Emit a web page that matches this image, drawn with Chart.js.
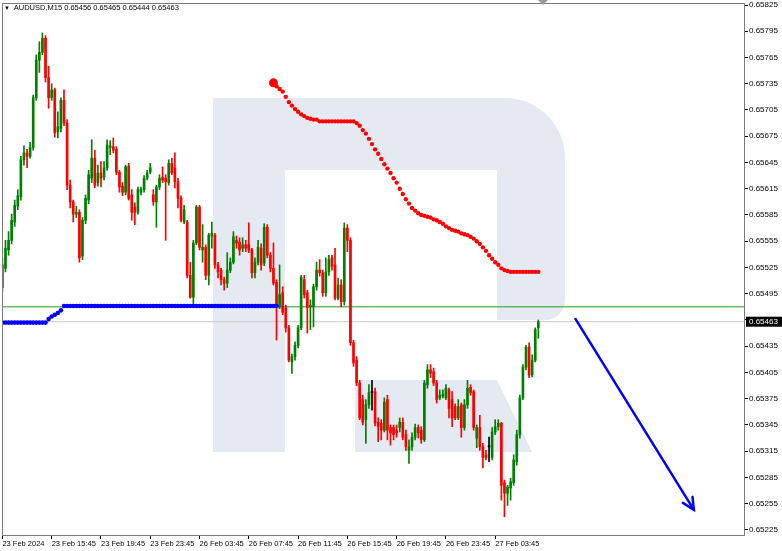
<!DOCTYPE html>
<html>
<head>
<meta charset="utf-8">
<script src="https://cdn.jsdelivr.net/npm/chart.js@4.4.1/dist/chart.umd.min.js"></script>
<style>
  body { margin: 0; background: #fff; }
  #wrap { position: relative; width: 782px; height: 551px; }
  #titulo { position: absolute; left: 4px; top: 3px; font: 7.5px "Liberation Sans", Arial, sans-serif; color: #000; white-space: pre; }
  #titulo .tri { font-size: 6px; }
</style>
</head>
<body>
<div id="wrap">
  <canvas id="grafico" width="782" height="551"></canvas>
  <div id="titulo"></div>
</div>
<script>
// AUDUSD M15, velas (indice = numero de vela)
const opens = [
  0.65502,0.65524,0.65545,0.65556,0.65577,0.65595,0.65606,0.65648,0.65656,0.65652,
  0.65662,0.65719,0.65762,0.65771,0.65787,0.65742,0.65719,0.65728,0.65680,0.65684,
  0.65716,0.65690,0.65619,0.65600,0.65586,0.65588,0.65538,0.65579,0.65602,0.65627,
  0.65650,0.65622,0.65633,0.65628,0.65639,0.65662,0.65663,0.65660,0.65634,0.65618,
  0.65611,0.65641,0.65608,0.65594,0.65588,0.65611,0.65614,0.65627,0.65634,0.65608,
  0.65600,0.65617,0.65628,0.65627,0.65622,0.65644,0.65639,0.65623,0.65604,0.65577,
  0.65577,0.65516,0.65491,0.65553,0.65594,0.65545,0.65548,0.65516,0.65561,0.65562,
  0.65528,0.65522,0.65511,0.65507,0.65522,0.65531,0.65556,0.65554,0.65547,0.65551,
  0.65551,0.65545,0.65519,0.65531,0.65547,0.65530,0.65571,0.65539,0.65524,0.65508,
  0.65480,0.65496,0.65479,0.65456,0.65417,0.65423,0.65436,0.65456,0.65511,0.65496,
  0.65480,0.65480,0.65503,0.65522,0.65519,0.65496,0.65520,0.65536,0.65528,0.65490,
  0.65505,0.65486,0.65570,0.65556,0.65439,0.65419,0.65393,0.65374,0.65351,0.65368,
  0.65382,0.65383,0.65348,0.65347,0.65339,0.65374,0.65342,0.65342,0.65339,0.65342,
  0.65348,0.65334,0.65316,0.65320,0.65331,0.65342,0.65339,0.65328,0.65391,0.65408,
  0.65406,0.65393,0.65376,0.65378,0.65376,0.65385,0.65374,0.65366,0.65353,0.65368,
  0.65342,0.65368,0.65388,0.65383,0.65330,0.65342,0.65320,0.65311,0.65320,0.65308,
  0.65337,0.65343,0.65347,0.65279,0.65267,0.65273,0.65279,0.65303,0.65334,0.65376,
  0.65411,0.65434,0.65402,0.65419,0.65456
]
const highs = [
  0.65536,0.65556,0.65566,0.65586,0.65602,0.65614,0.65652,0.65664,0.65660,0.65668,
  0.65722,0.65768,0.65783,0.65793,0.65790,0.65755,0.65735,0.65730,0.65703,0.65719,
  0.65728,0.65694,0.65625,0.65602,0.65595,0.65591,0.65582,0.65608,0.65636,0.65671,
  0.65659,0.65642,0.65646,0.65646,0.65671,0.65670,0.65673,0.65663,0.65636,0.65622,
  0.65642,0.65644,0.65614,0.65599,0.65617,0.65617,0.65630,0.65636,0.65644,0.65614,
  0.65619,0.65631,0.65640,0.65631,0.65648,0.65650,0.65656,0.65627,0.65607,0.65596,
  0.65579,0.65531,0.65556,0.65596,0.65596,0.65574,0.65551,0.65564,0.65577,0.65564,
  0.65531,0.65524,0.65514,0.65542,0.65536,0.65566,0.65561,0.65559,0.65559,0.65556,
  0.65576,0.65547,0.65536,0.65556,0.65552,0.65575,0.65574,0.65542,0.65553,0.65511,
  0.65528,0.65503,0.65482,0.65459,0.65426,0.65440,0.65459,0.65516,0.65516,0.65499,
  0.65488,0.65506,0.65531,0.65534,0.65522,0.65536,0.65539,0.65539,0.65547,0.65513,
  0.65511,0.65576,0.65574,0.65559,0.65442,0.65423,0.65396,0.65379,0.65374,0.65391,
  0.65396,0.65387,0.65353,0.65351,0.65376,0.65379,0.65345,0.65345,0.65345,0.65353,
  0.65353,0.65339,0.65328,0.65336,0.65346,0.65345,0.65343,0.65396,0.65414,0.65414,
  0.65410,0.65396,0.65385,0.65385,0.65391,0.65387,0.65383,0.65369,0.65374,0.65370,
  0.65374,0.65396,0.65391,0.65385,0.65345,0.65356,0.65324,0.65316,0.65331,0.65342,
  0.65351,0.65351,0.65348,0.65282,0.65276,0.65284,0.65311,0.65339,0.65379,0.65414,
  0.65436,0.65439,0.65425,0.65456,0.65465
]
const lows = [
  0.65497,0.65520,0.65539,0.65552,0.65572,0.65591,0.65602,0.65642,0.65639,0.65650,
  0.65659,0.65716,0.65748,0.65768,0.65737,0.65707,0.65716,0.65674,0.65673,0.65680,
  0.65687,0.65614,0.65593,0.65577,0.65582,0.65531,0.65534,0.65575,0.65598,0.65622,
  0.65616,0.65618,0.65617,0.65625,0.65636,0.65654,0.65656,0.65631,0.65611,0.65607,
  0.65608,0.65602,0.65579,0.65574,0.65586,0.65608,0.65611,0.65625,0.65632,0.65596,
  0.65571,0.65614,0.65622,0.65556,0.65619,0.65631,0.65616,0.65593,0.65577,0.65575,
  0.65513,0.65490,0.65482,0.65551,0.65545,0.65531,0.65511,0.65505,0.65547,0.65524,
  0.65513,0.65505,0.65499,0.65502,0.65519,0.65529,0.65547,0.65539,0.65543,0.65543,
  0.65542,0.65513,0.65513,0.65528,0.65522,0.65527,0.65536,0.65520,0.65505,0.65442,
  0.65478,0.65471,0.65451,0.65417,0.65404,0.65419,0.65433,0.65454,0.65490,0.65450,
  0.65454,0.65457,0.65499,0.65515,0.65492,0.65492,0.65516,0.65522,0.65488,0.65488,
  0.65480,0.65482,0.65543,0.65436,0.65412,0.65390,0.65351,0.65345,0.65324,0.65364,
  0.65362,0.65344,0.65326,0.65328,0.65337,0.65328,0.65322,0.65328,0.65331,0.65337,
  0.65328,0.65316,0.65301,0.65316,0.65328,0.65330,0.65324,0.65326,0.65387,0.65399,
  0.65390,0.65370,0.65374,0.65376,0.65374,0.65353,0.65343,0.65351,0.65351,0.65331,
  0.65339,0.65364,0.65379,0.65339,0.65319,0.65316,0.65296,0.65305,0.65303,0.65305,
  0.65334,0.65339,0.65259,0.65240,0.65253,0.65259,0.65276,0.65299,0.65330,0.65374,
  0.65408,0.65399,0.65400,0.65417,0.65444
]
const closes = [
  0.65528,0.65547,0.65556,0.65579,0.65596,0.65607,0.65648,0.65656,0.65652,0.65662,
  0.65719,0.65762,0.65771,0.65787,0.65742,0.65719,0.65728,0.65679,0.65686,0.65716,
  0.65690,0.65619,0.65600,0.65586,0.65588,0.65536,0.65579,0.65604,0.65631,0.65650,
  0.65619,0.65633,0.65627,0.65639,0.65665,0.65664,0.65659,0.65634,0.65617,0.65611,
  0.65640,0.65604,0.65588,0.65588,0.65614,0.65614,0.65627,0.65633,0.65639,0.65600,
  0.65617,0.65627,0.65625,0.65623,0.65644,0.65633,0.65623,0.65604,0.65579,0.65591,
  0.65516,0.65491,0.65553,0.65594,0.65548,0.65548,0.65516,0.65562,0.65564,0.65528,
  0.65520,0.65511,0.65507,0.65522,0.65531,0.65560,0.65553,0.65545,0.65551,0.65547,
  0.65545,0.65519,0.65531,0.65548,0.65528,0.65571,0.65539,0.65524,0.65507,0.65480,
  0.65494,0.65474,0.65456,0.65419,0.65423,0.65436,0.65456,0.65514,0.65494,0.65479,
  0.65482,0.65503,0.65522,0.65519,0.65496,0.65520,0.65534,0.65526,0.65490,0.65505,
  0.65486,0.65570,0.65556,0.65439,0.65416,0.65393,0.65353,0.65348,0.65368,0.65382,
  0.65382,0.65347,0.65343,0.65339,0.65371,0.65339,0.65336,0.65334,0.65336,0.65348,
  0.65331,0.65320,0.65320,0.65331,0.65342,0.65336,0.65328,0.65393,0.65408,0.65404,
  0.65393,0.65374,0.65379,0.65380,0.65387,0.65364,0.65353,0.65353,0.65366,0.65342,
  0.65368,0.65387,0.65382,0.65342,0.65342,0.65320,0.65308,0.65308,0.65320,0.65337,
  0.65343,0.65347,0.65276,0.65267,0.65274,0.65280,0.65305,0.65334,0.65376,0.65411,
  0.65434,0.65402,0.65419,0.65454,0.65463
]

// linea azul de puntos (desde la vela 0)
const lineaAzul = [
  0.65462,0.65462,0.65462,0.65462,0.65462,0.65462,0.65462,0.65462,0.65462,0.65462,
  0.65462,0.65462,0.65462,0.65462,0.65462,0.65466,0.65469,0.65471,0.65473,0.65476,
  0.65481,0.65481,0.65481,0.65481,0.65481,0.65481,0.65481,0.65481,0.65481,0.65481,
  0.65481,0.65481,0.65481,0.65481,0.65481,0.65481,0.65481,0.65481,0.65481,0.65481,
  0.65481,0.65481,0.65481,0.65481,0.65481,0.65481,0.65481,0.65481,0.65481,0.65481,
  0.65481,0.65481,0.65481,0.65481,0.65481,0.65481,0.65481,0.65481,0.65481,0.65481,
  0.65481,0.65481,0.65481,0.65481,0.65481,0.65481,0.65481,0.65481,0.65481,0.65481,
  0.65481,0.65481,0.65481,0.65481,0.65481,0.65481,0.65481,0.65481,0.65481,0.65481,
  0.65481,0.65481,0.65481,0.65481,0.65481,0.65481,0.65481,0.65481,0.65481,0.65481
]
// linea roja de puntos (empieza en la vela 88)
const inicioRoja = 88
const lineaRoja = [
  0.65736,0.65732,0.65729,0.65726,0.65720,0.65714,0.65710,0.65706,0.65703,0.65700,
  0.65698,0.65696,0.65695,0.65694,0.65694,0.65692,0.65692,0.65692,0.65692,0.65692,
  0.65692,0.65692,0.65692,0.65692,0.65692,0.65692,0.65692,0.65690,0.65687,0.65682,
  0.65678,0.65672,0.65666,0.65660,0.65655,0.65649,0.65643,0.65638,0.65633,0.65627,
  0.65622,0.65615,0.65609,0.65603,0.65598,0.65593,0.65590,0.65587,0.65585,0.65584,
  0.65583,0.65582,0.65580,0.65579,0.65577,0.65575,0.65572,0.65570,0.65568,0.65567,
  0.65566,0.65564,0.65563,0.65562,0.65560,0.65558,0.65555,0.65552,0.65548,0.65544,
  0.65539,0.65535,0.65531,0.65528,0.65524,0.65522,0.65521,0.65520,0.65520,0.65520,
  0.65520,0.65520,0.65520,0.65520,0.65520,0.65520,0.65520
]

const nivelVerde = 0.65480
// flecha de pronostico: [vela, precio] inicio y fin
const flechaX = [185.9, 224.5]
const flechaY = [0.65467, 0.65248]

const tickVelas = [0, 16, 32, 48, 64, 80, 96, 112, 128, 144, 160]
const tickTextos = ["23 Feb 2024", "23 Feb 15:45", "23 Feb 19:45", "23 Feb 23:45", "26 Feb 03:45",
  "26 Feb 07:45", "26 Feb 11:45", "26 Feb 15:45", "26 Feb 19:45", "26 Feb 23:45", "27 Feb 03:45"]
const precioTicks = [0.65225, 0.65255, 0.65285, 0.65315, 0.65345, 0.65375, 0.65405, 0.65435, 0.65465,
  0.65495, 0.65525, 0.65555, 0.65585, 0.65615, 0.65645, 0.65675, 0.65705, 0.65735, 0.65765, 0.65795, 0.65825]
const yMin = 0.652192
const yMax = 0.658273
const xMin = -0.13
const xMax = 241.1

const ultimo = closes.length - 1
const ultimoPrecio = closes[ultimo]

document.getElementById("titulo").innerHTML =
  '<span class="tri">\u25BC</span>  AUDUSD,M15 ' +
  [opens[ultimo], highs[ultimo], lows[ultimo], closes[ultimo]].map(v => v.toFixed(5)).join(" ")

const colorVela = (i) => {
  if (closes[i] > opens[i]) return "#008000"
  if (closes[i] < opens[i]) return "#ff0000"
  return "#000000"
}

const fuenteX = { family: "'Liberation Sans', Arial, sans-serif", size: 7.5 }
const fuenteY = { family: "'Liberation Sans', Arial, sans-serif", size: 8 }

// logo de fondo, flecha, recuadro del precio y marco
const extras = {
  id: "extras",
  beforeDatasetsDraw(chart) {
    const ctx = chart.ctx
    ctx.save()
    ctx.fillStyle = "#e5eaf2"
    ctx.fillRect(213, 98, 72, 354)
    ctx.beginPath()
    ctx.moveTo(285, 98)
    ctx.lineTo(505, 98)
    ctx.arcTo(565, 98, 565, 158, 60)
    ctx.lineTo(565, 300)
    ctx.arcTo(565, 320, 545, 320, 20)
    ctx.lineTo(497, 320)
    ctx.lineTo(497, 170)
    ctx.lineTo(285, 170)
    ctx.closePath()
    ctx.fill()
    ctx.beginPath()
    ctx.moveTo(355, 380)
    ctx.lineTo(497, 380)
    ctx.lineTo(532, 452)
    ctx.lineTo(355, 452)
    ctx.closePath()
    ctx.fill()
    ctx.restore()
  },
  afterDatasetsDraw(chart) {
    const ctx = chart.ctx
    const meta = chart.getDatasetMeta(chart.data.datasets.length - 1)
    const p0 = meta.data[0], p1 = meta.data[1]
    const ang = Math.atan2(p1.y - p0.y, p1.x - p0.x)
    ctx.save()
    ctx.strokeStyle = "#0000ff"
    ctx.lineWidth = 2.5
    ctx.lineCap = "round"
    ctx.beginPath()
    ctx.moveTo(p1.x - 13 * Math.cos(ang - 0.45), p1.y - 13 * Math.sin(ang - 0.45))
    ctx.lineTo(p1.x, p1.y)
    ctx.lineTo(p1.x - 13 * Math.cos(ang + 0.45), p1.y - 13 * Math.sin(ang + 0.45))
    ctx.stroke()
    ctx.restore()
  },
  afterDraw(chart) {
    const ctx = chart.ctx
    const a = chart.chartArea
    ctx.save()
    ctx.strokeStyle = "#7a7a7a"
    ctx.lineWidth = 1
    ctx.strokeRect(a.left + 0.5, a.top + 0.5, a.right - a.left - 1, a.bottom - a.top)
    // marcador de desplazamiento arriba
    ctx.fillStyle = "#9a9a9a"
    ctx.beginPath()
    ctx.moveTo(538, 0)
    ctx.lineTo(548, 0)
    ctx.lineTo(543, 5)
    ctx.closePath()
    ctx.fill()
    // recuadro con el ultimo precio
    const y = chart.scales.y.getPixelForValue(ultimoPrecio)
    ctx.fillStyle = "#000"
    ctx.fillRect(a.right + 1, y - 5, 36, 10)
    ctx.fillStyle = "#fff"
    ctx.font = "8px 'Liberation Sans', Arial, sans-serif"
    ctx.textBaseline = "middle"
    ctx.fillText(ultimoPrecio.toFixed(5), a.right + 4, y + 0.5)
    ctx.restore()
  }
}

new Chart(document.getElementById("grafico"), {
  data: {
    datasets: [
      {
        type: "bar",
        label: "mechas",
        data: opens.map((o, i) => ({ x: i, y: [lows[i], highs[i]] })),
        backgroundColor: (c) => colorVela(c.dataIndex),
        barThickness: 1,
        grouped: false,
        order: 3
      },
      {
        type: "bar",
        label: "cuerpos",
        data: opens.map((o, i) => ({ x: i, y: [o, closes[i]] })),
        backgroundColor: (c) => colorVela(c.dataIndex),
        barThickness: 2,
        minBarLength: 1,
        grouped: false,
        order: 2
      },
      {
        type: "line",
        label: "verde",
        data: [{ x: xMin, y: nivelVerde }, { x: xMax, y: nivelVerde }],
        borderColor: "#229922",
        borderWidth: 1,
        pointRadius: 0,
        order: 4
      },
      {
        type: "line",
        label: "precio",
        data: [{ x: xMin, y: ultimoPrecio }, { x: xMax, y: ultimoPrecio }],
        borderColor: "#c8c8c8",
        borderWidth: 1,
        pointRadius: 0,
        order: 5
      },
      {
        type: "line",
        label: "azul",
        data: lineaAzul.map((v, i) => ({ x: i, y: v })),
        showLine: false,
        pointRadius: 2.3,
        pointBorderWidth: 0,
        pointBackgroundColor: "#0000ff",
        order: 1
      },
      {
        type: "line",
        label: "roja",
        data: lineaRoja.map((v, i) => ({ x: i + inicioRoja, y: v })),
        showLine: false,
        pointRadius: (c) => c.dataIndex === 0 ? 4.5 : 2.2,
        pointBorderWidth: 0,
        pointBackgroundColor: "#ff0000",
        order: 1
      },
      {
        type: "line",
        label: "flecha",
        data: [{ x: flechaX[0], y: flechaY[0] }, { x: flechaX[1], y: flechaY[1] }],
        borderColor: "#0000ff",
        borderWidth: 2.5,
        pointRadius: 0,
        clip: false,
        order: 0
      }
    ]
  },
  options: {
    responsive: false,
    animation: false,
    layout: { autoPadding: false, padding: { left: 2, top: 3, right: 0, bottom: 0 } },
    plugins: { legend: { display: false }, tooltip: { enabled: false } },
    scales: {
      x: {
        type: "linear",
        offset: false,
        min: xMin,
        max: xMax,
        afterBuildTicks: (s) => { s.ticks = tickVelas.map(v => ({ value: v })) },
        afterFit: (s) => {
          s.height = 16
          s.paddingLeft = 0
          s.paddingRight = 0
        },
        ticks: {
          align: "start",
          autoSkip: false,
          maxRotation: 0,
          padding: 0,
          color: "#000",
          font: fuenteX,
          callback: (v, i) => tickTextos[i]
        },
        grid: { offset: false, drawOnChartArea: false, tickLength: 4, color: "#000" },
        border: { display: false }
      },
      y: {
        position: "right",
        min: yMin,
        max: yMax,
        afterBuildTicks: (s) => { s.ticks = precioTicks.map(v => ({ value: v })) },
        afterFit: (s) => {
          s.width = 37
          s.paddingTop = 0
          s.paddingBottom = 0
        },
        ticks: {
          padding: 1,
          color: "#000",
          font: fuenteY,
          callback: (v) => v.toFixed(5)
        },
        grid: { drawOnChartArea: false, tickLength: 3, color: "#000" },
        border: { display: false }
      }
    }
  },
  plugins: [extras]
})
</script>
</body>
</html>
